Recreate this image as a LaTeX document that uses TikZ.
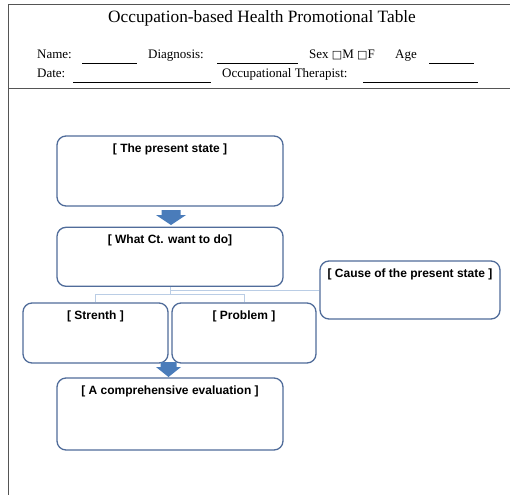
\documentclass[tikz,border=0pt]{standalone}
\usepackage{fontspec}
\setmainfont{Liberation Serif}
\newfontfamily\labelsans{Liberation Sans}
\newfontfamily\boxglyph{DejaVu Sans}
\usetikzlibrary{positioning}
\definecolor{Steel}{RGB}{80,108,154}
\definecolor{Accent}{RGB}{74,124,186}
\definecolor{Pale}{RGB}{186,205,229}
\definecolor{Rule}{RGB}{85,85,85}

\begin{document}
\begin{tikzpicture}[x=1pt,y=-1pt,
    card/.style={rectangle,rounded corners=9pt,draw=Steel,line width=1.3pt,fill=white,inner sep=0pt},
    heading/.style={anchor=north,inner sep=0pt,yshift=-8pt,font=\labelsans\bfseries\fontsize{12}{14}\selectfont},
    form/.style={anchor=base west,inner sep=0pt,font=\fontsize{13}{15}\selectfont},
    blank/.style={line width=0.8pt,black},
    link/.style={draw=Pale,line width=1pt},
    blockfill/.style={fill=Accent},
    rule/.style={draw=Rule,line width=1pt}
]
\useasboundingbox (0,0) rectangle (510,495);

% frame
\draw[rule] (510,5) -- (8,5) -- (8,495);
\draw[rule] (8,88) -- (510,88);

% header
\node[anchor=base,inner sep=0pt,font=\fontsize{17.3}{19}\selectfont] (tabletitle) at (262,23) {Occupation-based Health Promotional Table};
\node[form] (name) at (37,58) {Name:};
\draw[blank] (82,63) -- (137,63);
\node[form] (diagnosis) at (148,58) {Diagnosis:};
\draw[blank] (217,63) -- (298,63);
\node[form] (sex) at (309,58) {Sex {\boxglyph\fontsize{11}{13}\selectfont □}M {\boxglyph\fontsize{11}{13}\selectfont □}F};
\node[form] (age) at (395,58) {Age};
\draw[blank] (429,63) -- (474,63);
\node[form] (date) at (37,77) {Date:};
\draw[blank] (73,82) -- (211,82);
\node[form] (therapist) at (222,77) {Occupational Therapist:};
\draw[blank] (363,82) -- (478,82);

% boxes
\node[card,minimum width=226pt,minimum height=70pt,label={[heading]north:{[ The present state ]}}] (present) at (170,171) {};
\node[card,minimum width=226pt,minimum height=59pt,below=20pt of present,label={[heading]north:{[ What Ct. want to do]}}] (want) {};
\node[card,minimum width=180pt,minimum height=58pt,label={[heading]north:{[ Cause of the present state ]}}] (cause) at (410,290) {};
\node[card,minimum width=145pt,minimum height=60pt,label={[heading]north:{[ Strenth ]}}] (strength) at (95.5,333) {};
\node[card,minimum width=144pt,minimum height=60pt,label={[heading]north:{[ Problem ]}}] (problem) at (244,333) {};
\node[card,minimum width=226pt,minimum height=72pt,label={[heading]north:{[ A comprehensive evaluation ]}}] (evaluation) at (170,414) {};

% block arrows
\coordinate (step1) at (171,210);
\coordinate (step2) at (168.5,362);
\fill[blockfill] (step1) ++(-9.5,0) -- ++(19,0) -- ++(0,5) -- ++(5.5,0) -- ++(-15,10) -- ++(-15,-10) -- ++(5.5,0) -- cycle;
\fill[blockfill] (step2) ++(-8,0) -- ++(16,0) -- ++(0,5) -- ++(4.5,0) -- ++(-12.5,10) -- ++(-12.5,-10) -- ++(4.5,0) -- cycle;

% thin links
\draw[link] (want.south) |- (cause.west);
\draw[link] (want.south) -- ++(0,8) -| (strength.north);
\draw[link] (want.south) -- ++(0,8) -| (problem.north);

\end{tikzpicture}
\end{document}
